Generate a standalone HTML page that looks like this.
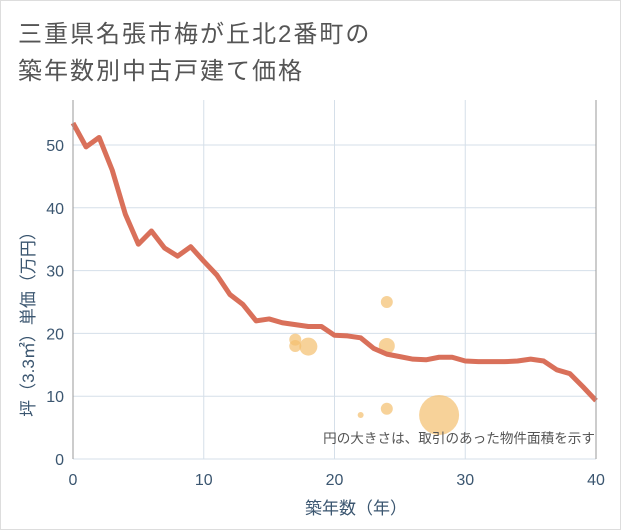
<!DOCTYPE html>
<html><head><meta charset="utf-8"><style>
body{margin:0;background:#fff;}
svg{display:block;font-family:"Liberation Sans","Noto Sans CJK JP",sans-serif;}
</style></head><body>
<svg id="c" width="621" height="530">
<rect x="0.5" y="0.5" width="620" height="529" fill="#fff" stroke="#ddd"/>
<text x="18" y="42" font-size="24" letter-spacing="2" fill="#555">三重県名張市梅が丘北2番町の</text>
<text x="18" y="79" font-size="24" letter-spacing="2" fill="#555">築年数別中古戸建て価格</text>
<g id="grid"></g>
<g id="bubbles"></g>
<g id="line"></g>
<g id="axes"></g>
<text x="595" y="443" font-size="13.6" fill="#555" text-anchor="end">円の大きさは、取引のあった物件面積を示す</text>
<text x="356" y="514" font-size="17" fill="#3b5670" text-anchor="middle">築年数（年）</text>
<text transform="translate(34,320) rotate(-90)" font-size="17" fill="#3b5670" text-anchor="middle">坪（3.3㎡）単価（万円）</text>
</svg>
<script>
const xTicks=[0,10,20,30,40];
const yTicks=[0,10,20,30,40,50];
const years=[0,1,2,3,4,5,6,7,8,9,10,11,12,13,14,15,16,17,18,19,20,21,22,23,24,25,26,27,28,29,30,31,32,33,34,35,36,37,38,39,40];
const prices=[53.5,49.7,51.2,46,39,34.2,36.3,33.6,32.3,33.8,31.5,29.3,26.2,24.6,22,22.3,21.7,21.4,21.1,21.1,19.7,19.6,19.3,17.6,16.7,16.3,15.9,15.8,16.2,16.2,15.6,15.5,15.5,15.5,15.6,15.9,15.6,14.2,13.6,11.5,9.3];
const bubbleX=[17,17,18,22,24,24,24,28];
const bubbleY=[19,18,17.9,7,25,18,8,7];
const bubbleR=[6,6,9,3,6,8,6,20];
const X0=73,X1=596,Y0=459,Y1=145;
const sx=v=>X0+(X1-X0)*v/40;
const sy=v=>Y0-(Y0-Y1)*v/50;
const NS="http://www.w3.org/2000/svg";
function mk(tag,parent,attrs){const e=document.createElementNS(NS,tag);for(const k in attrs)e.setAttribute(k,attrs[k]);document.getElementById(parent).appendChild(e);return e;}
xTicks.forEach(t=>{
 const l=mk('line','grid',{x1:sx(t),x2:sx(t),y1:100,y2:Y0,stroke:'#d5dfe9','stroke-width':1});
 
 
 const tx=mk('text','axes',{x:sx(t),y:485,'font-size':16,fill:'#3b5670','text-anchor':'middle'});
 tx.textContent=t;
 
 
});
yTicks.forEach(t=>{
 const l=mk('line','grid',{x1:X0,x2:X1,y1:sy(t),y2:sy(t),stroke:'#d5dfe9','stroke-width':1});
 
 
 const tx=mk('text','axes',{x:64,y:sy(t)+6,'font-size':16,fill:'#3b5670','text-anchor':'end'});
 tx.textContent=t;
 
 
});
const ax=mk('line','axes',{x1:X0,x2:X0,y1:100,y2:Y0,stroke:'#999','stroke-width':1});


const ax2=mk('line','axes',{x1:X1,x2:X1,y1:100,y2:Y0,stroke:'#999','stroke-width':1});


bubbleX.forEach((b,i)=>{
 const c=mk('circle','bubbles',{cx:sx(b),cy:sy(bubbleY[i]),r:bubbleR[i],fill:'#f3bf6d','fill-opacity':0.7});
 
 
});
const p=mk('polyline','line',{points:years.map((y,i)=>sx(y)+','+sy(prices[i])).join(' '),fill:'none',stroke:'#d9705a','stroke-width':5,'stroke-linejoin':'round'});


</script>
</body></html>
